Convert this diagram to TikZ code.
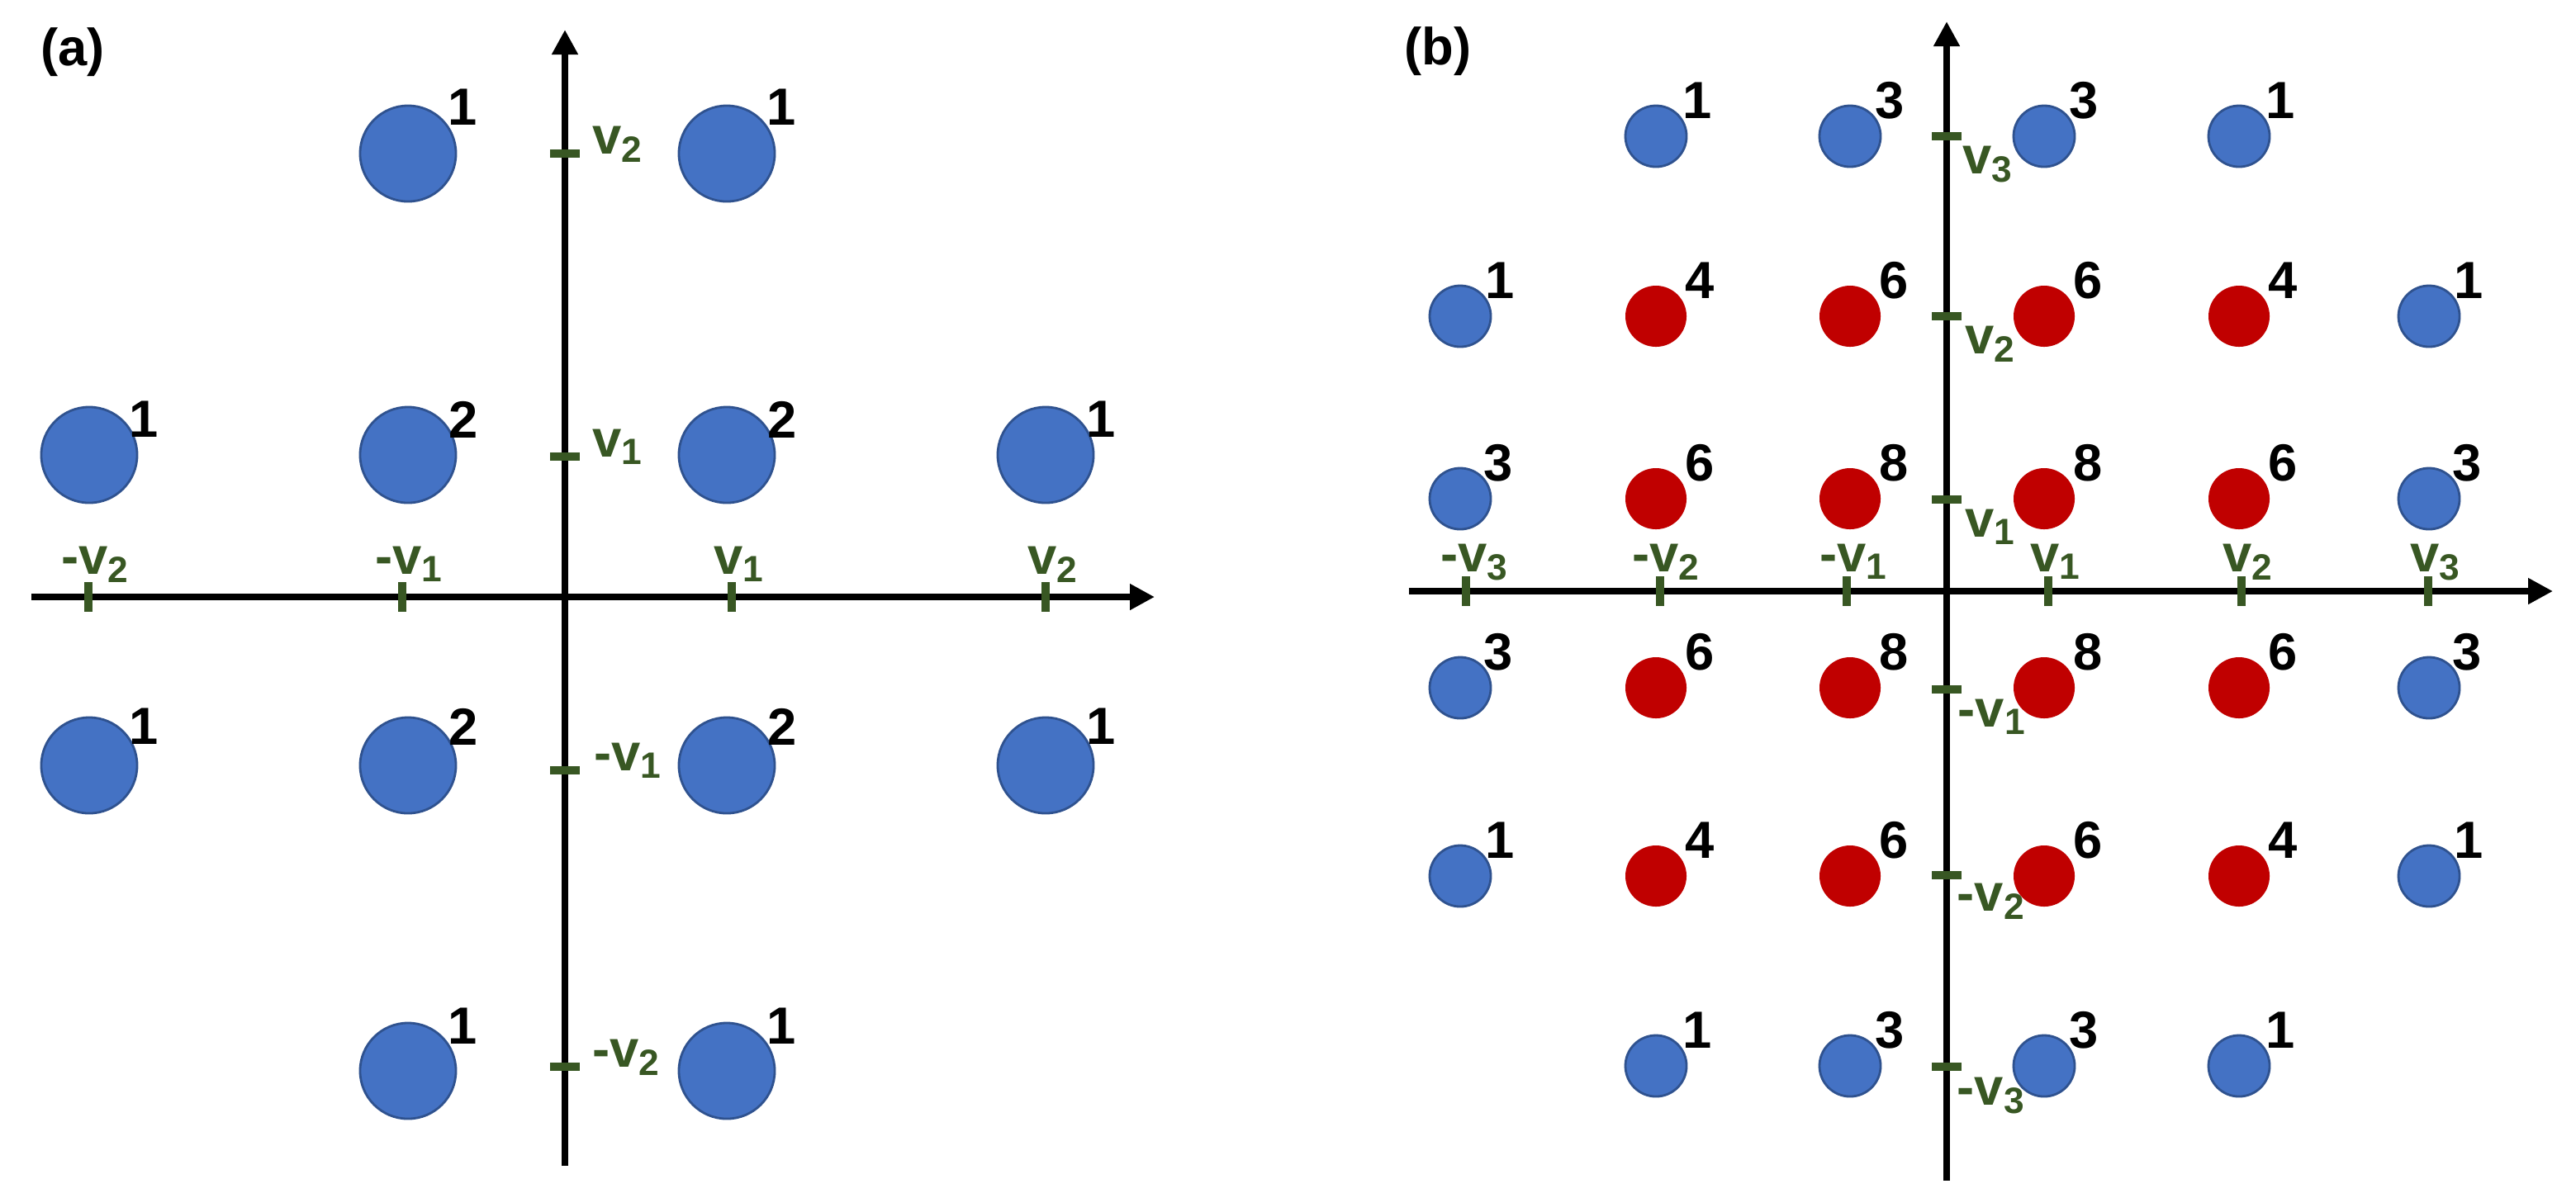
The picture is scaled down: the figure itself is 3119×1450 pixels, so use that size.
\documentclass[tikz,border=0pt]{standalone}
\usepackage{fontspec}
\setmainfont{Liberation Sans}
\usetikzlibrary{arrows.meta}
\definecolor{dotblue}{RGB}{68,114,196}
\definecolor{dotedge}{RGB}{47,82,143}
\definecolor{dotred}{RGB}{192,0,0}
\definecolor{tickgreen}{RGB}{56,87,35}

\begin{document}
\begin{tikzpicture}[
    x=0.01cm, y=-0.01cm,
    bdot/.style={circle, draw=dotedge, fill=dotblue, line width=0.8pt, inner sep=0pt},
    rdot/.style={circle, fill=dotred, inner sep=0pt, minimum size=0.74cm},
    dotbig/.style={minimum size=1.16cm},
    dotsmall/.style={minimum size=0.74cm},
    num/.style={font=\bfseries\fontsize{18}{20}\selectfont, inner sep=0pt},
    vlab/.style={font=\bfseries\fontsize{18}{20}\selectfont, text=tickgreen, inner sep=0pt},
    axline/.style={-{Triangle[width=0.3cm,length=0.3cm]}, line width=0.08cm},
    axtick/.style={draw=tickgreen, line width=0.1cm}
]
\useasboundingbox (0,0) rectangle (3119,1450);

% Panel (a)
\node[num] (lab-a) at (88,63) {(a)};
\coordinate (a-w) at (38,723);
\coordinate (a-e) at (1398,723);
\coordinate (a-s) at (684,1412);
\coordinate (a-n) at (684,36);
\draw[axline] (a-w) -- (a-e);
\draw[axline] (a-s) -- (a-n);

% ticks
\draw[axtick] (666,186) -- (702,186);
\draw[axtick] (666,553) -- (702,553);
\draw[axtick] (666,933) -- (702,933);
\draw[axtick] (666,1292) -- (702,1292);
\draw[axtick] (107,705) -- (107,741);
\draw[axtick] (487,705) -- (487,741);
\draw[axtick] (886,705) -- (886,741);
\draw[axtick] (1266,705) -- (1266,741);

\node[vlab, anchor=base west] (ya2) at (717,186) {v\textsubscript{2}};
\node[vlab, anchor=base west] (ya1) at (717,553) {v\textsubscript{1}};
\node[vlab, anchor=base west] (ya-1) at (719,933) {-v\textsubscript{1}};
\node[vlab, anchor=base west] (ya-2) at (717,1292) {-v\textsubscript{2}};
\node[vlab, anchor=base] (xa-2) at (116,695) {-v\textsubscript{2}};
\node[vlab, anchor=base] (xa-1) at (496,695) {-v\textsubscript{1}};
\node[vlab, anchor=base] (xa1) at (895,695) {v\textsubscript{1}};
\node[vlab, anchor=base] (xa2) at (1275,695) {v\textsubscript{2}};

% dots
\node[bdot, dotbig] (a1) at (494,186) {};   \node[num] (na1) at (560,130) {1};
\node[bdot, dotbig] (a2) at (880,186) {};   \node[num] (na2) at (946,130) {1};
\node[bdot, dotbig] (a3) at (108,551) {};   \node[num] (na3) at (174,508) {1};
\node[bdot, dotbig] (a4) at (494,551) {};   \node[num] (na4) at (561,508) {2};
\node[bdot, dotbig] (a5) at (880,551) {};   \node[num] (na5) at (947,508) {2};
\node[bdot, dotbig] (a6) at (1266,551) {};  \node[num] (na6) at (1333,508) {1};
\node[bdot, dotbig] (a7) at (108,927) {};   \node[num] (na7) at (174,880) {1};
\node[bdot, dotbig] (a8) at (494,927) {};   \node[num] (na8) at (561,880) {2};
\node[bdot, dotbig] (a9) at (880,927) {};   \node[num] (na9) at (947,880) {2};
\node[bdot, dotbig] (a10) at (1266,927) {}; \node[num] (na10) at (1333,880) {1};
\node[bdot, dotbig] (a11) at (494,1297) {}; \node[num] (na11) at (560,1243) {1};
\node[bdot, dotbig] (a12) at (880,1297) {}; \node[num] (na12) at (946,1243) {1};

% Panel (b)
\node[num] (lab-b) at (1741,62) {(b)};
\coordinate (b-w) at (1706,716);
\coordinate (b-e) at (3091,716);
\coordinate (b-s) at (2357,1430);
\coordinate (b-n) at (2357,26);
\draw[axline] (b-w) -- (b-e);
\draw[axline] (b-s) -- (b-n);

% ticks
\draw[axtick] (2339,165) -- (2375,165);
\draw[axtick] (2339,383) -- (2375,383);
\draw[axtick] (2339,605) -- (2375,605);
\draw[axtick] (2339,835) -- (2375,835);
\draw[axtick] (2339,1060) -- (2375,1060);
\draw[axtick] (2339,1292) -- (2375,1292);
\draw[axtick] (1775,698) -- (1775,734);
\draw[axtick] (2010,698) -- (2010,734);
\draw[axtick] (2236,698) -- (2236,734);
\draw[axtick] (2480,698) -- (2480,734);
\draw[axtick] (2714,698) -- (2714,734);
\draw[axtick] (2940,698) -- (2940,734);

\node[vlab, anchor=base west] (yb3) at (2376,210) {v\textsubscript{3}};
\node[vlab, anchor=base west] (yb2) at (2379,428) {v\textsubscript{2}};
\node[vlab, anchor=base west] (yb1) at (2379,650) {v\textsubscript{1}};
\node[vlab, anchor=base west] (yb-1) at (2370,880) {-v\textsubscript{1}};
\node[vlab, anchor=base west] (yb-2) at (2369,1103) {-v\textsubscript{2}};
\node[vlab, anchor=base west] (yb-3) at (2369,1338) {-v\textsubscript{3}};
\node[vlab, anchor=base] (xb-3) at (1786,692) {-v\textsubscript{3}};
\node[vlab, anchor=base] (xb-2) at (2018,692) {-v\textsubscript{2}};
\node[vlab, anchor=base] (xb-1) at (2245,692) {-v\textsubscript{1}};
\node[vlab, anchor=base] (xb1) at (2489,692) {v\textsubscript{1}};
\node[vlab, anchor=base] (xb2) at (2722,692) {v\textsubscript{2}};
\node[vlab, anchor=base] (xb3) at (2949,692) {v\textsubscript{3}};

% dots, row 1
\node[bdot, dotsmall] (b12) at (2005,165) {}; \node[num] (nb12) at (2055,122) {1};
\node[bdot, dotsmall] (b13) at (2240,165) {}; \node[num] (nb13) at (2288,122) {3};
\node[bdot, dotsmall] (b14) at (2475,165) {}; \node[num] (nb14) at (2523,122) {3};
\node[bdot, dotsmall] (b15) at (2711,165) {}; \node[num] (nb15) at (2761,122) {1};
% row 2
\node[bdot, dotsmall] (b21) at (1768,383) {}; \node[num] (nb21) at (1816,340) {1};
\node[rdot] (b22) at (2005,383) {};           \node[num] (nb22) at (2058,340) {4};
\node[rdot] (b23) at (2240,383) {};           \node[num] (nb23) at (2293,340) {6};
\node[rdot] (b24) at (2475,383) {};           \node[num] (nb24) at (2528,340) {6};
\node[rdot] (b25) at (2711,383) {};           \node[num] (nb25) at (2764,340) {4};
\node[bdot, dotsmall] (b26) at (2941,383) {}; \node[num] (nb26) at (2989,340) {1};
% row 3
\node[bdot, dotsmall] (b31) at (1768,604) {}; \node[num] (nb31) at (1814,561) {3};
\node[rdot] (b32) at (2005,604) {};           \node[num] (nb32) at (2058,561) {6};
\node[rdot] (b33) at (2240,604) {};           \node[num] (nb33) at (2293,561) {8};
\node[rdot] (b34) at (2475,604) {};           \node[num] (nb34) at (2528,561) {8};
\node[rdot] (b35) at (2711,604) {};           \node[num] (nb35) at (2764,561) {6};
\node[bdot, dotsmall] (b36) at (2941,604) {}; \node[num] (nb36) at (2987,561) {3};
% row 4
\node[bdot, dotsmall] (b41) at (1768,833) {}; \node[num] (nb41) at (1814,790) {3};
\node[rdot] (b42) at (2005,833) {};           \node[num] (nb42) at (2058,790) {6};
\node[rdot] (b43) at (2240,833) {};           \node[num] (nb43) at (2293,790) {8};
\node[rdot] (b44) at (2475,833) {};           \node[num] (nb44) at (2528,790) {8};
\node[rdot] (b45) at (2711,833) {};           \node[num] (nb45) at (2764,790) {6};
\node[bdot, dotsmall] (b46) at (2941,833) {}; \node[num] (nb46) at (2987,790) {3};
% row 5
\node[bdot, dotsmall] (b51) at (1768,1061) {}; \node[num] (nb51) at (1816,1018) {1};
\node[rdot] (b52) at (2005,1061) {};           \node[num] (nb52) at (2058,1018) {4};
\node[rdot] (b53) at (2240,1061) {};           \node[num] (nb53) at (2293,1018) {6};
\node[rdot] (b54) at (2475,1061) {};           \node[num] (nb54) at (2528,1018) {6};
\node[rdot] (b55) at (2711,1061) {};           \node[num] (nb55) at (2764,1018) {4};
\node[bdot, dotsmall] (b56) at (2941,1061) {}; \node[num] (nb56) at (2989,1018) {1};
% row 6
\node[bdot, dotsmall] (b62) at (2005,1291) {}; \node[num] (nb62) at (2055,1248) {1};
\node[bdot, dotsmall] (b63) at (2240,1291) {}; \node[num] (nb63) at (2288,1248) {3};
\node[bdot, dotsmall] (b64) at (2475,1291) {}; \node[num] (nb64) at (2523,1248) {3};
\node[bdot, dotsmall] (b65) at (2711,1291) {}; \node[num] (nb65) at (2761,1248) {1};

\end{tikzpicture}
\end{document}
